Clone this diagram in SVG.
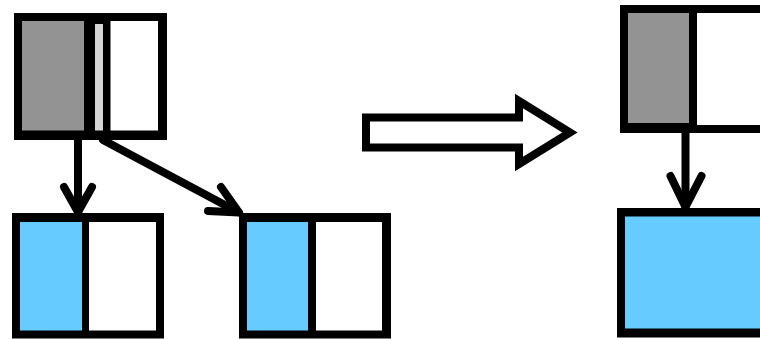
<svg xmlns="http://www.w3.org/2000/svg" width="760" height="339" viewBox="0 0 760 339">
  <style>
    .blk { fill: #000000; }
    .gray { fill: #939393; }
    .lgray { fill: #d6d6d6; }
    .white { fill: #ffffff; }
    .blue { fill: #66ccff; }
    .line { fill: none; stroke: #000000; stroke-width: 8; stroke-linecap: round; stroke-linejoin: round; }
    .big { fill: #ffffff; stroke: #000000; stroke-width: 8; stroke-linejoin: miter; stroke-miterlimit: 10; }
  </style>
  <rect x="0" y="0" width="760" height="339" fill="#ffffff"/>
  <g id="node-top-left">
    <rect class="blk" x="14" y="13" width="153" height="127"/>
    <rect class="gray" x="22" y="21" width="62" height="109.5"/>
    <rect class="lgray" x="95" y="24" width="8" height="106.5"/>
    <rect class="white" x="110.5" y="21" width="47.5" height="109.5"/>
  </g>
  <g id="node-bottom-left">
    <rect class="blk" x="12" y="213" width="152" height="125.5"/>
    <rect class="blue" x="20" y="222" width="62" height="108.5"/>
    <rect class="white" x="89" y="222" width="67" height="108.5"/>
  </g>
  <g id="node-bottom-middle">
    <rect class="blk" x="239" y="213" width="152" height="125.5"/>
    <rect class="blue" x="247" y="222" width="61" height="108.5"/>
    <rect class="white" x="316" y="222" width="66" height="108.5"/>
  </g>
  <g id="node-top-right">
    <rect class="blk" x="620" y="5" width="160" height="128"/>
    <rect class="gray" x="628" y="13" width="61" height="110"/>
    <rect class="white" x="697" y="13" width="80" height="112"/>
  </g>
  <g id="node-bottom-right">
    <rect class="blk" x="617" y="208" width="160" height="129.5"/>
    <rect class="blue" x="625" y="216.5" width="150" height="112"/>
  </g>
  <g id="transform-arrow">
    <polygon class="big" points="366,117.5 519,117.5 519,101 570,132.5 519,164 519,147.5 366,147.5"/>
  </g>
  <g id="connectors">
    <line class="line" x1="78" y1="140" x2="78" y2="211"/>
    <polyline class="line" points="64,187 78,212 92,187"/>
    <line class="line" x1="103" y1="140" x2="238" y2="212"/>
    <polyline class="line" points="221,187 239,212.5 208,211"/>
    <line class="line" x1="685.5" y1="133" x2="685.5" y2="206"/>
    <polyline class="line" points="670.5,176 685.5,207 701.5,176"/>
  </g>
</svg>
